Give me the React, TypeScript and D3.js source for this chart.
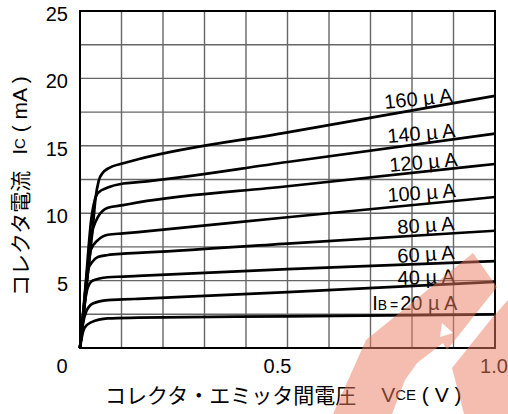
import React from "react";
import * as d3 from "d3";

// ---- data ----
const baseCurrents = [20, 40, 60, 80, 100, 120, 140, 160]; // µA
const vce160 = [0, 0.015, 0.031, 0.037, 0.045, 0.055, 0.067, 0.104, 0.14, 0.5, 1.0];
const ic160 = [0, 4.5, 9.0, 11.0, 12.4, 13.0, 13.3, 13.7, 14.0, 16.0, 18.7];
const vce140 = [0, 0.013, 0.027, 0.035, 0.043, 0.067, 0.104, 0.14, 0.5, 1.0];
const ic140 = [0, 4.5, 9.5, 10.9, 11.5, 11.9, 12.2, 12.3, 13.8, 15.9];
const vce120 = [0, 0.012, 0.0265, 0.043, 0.067, 0.104, 0.14, 0.5, 1.0];
const ic120 = [0, 4.0, 8.2, 9.7, 10.4, 10.6, 10.8, 12.0, 13.65];
const vce100 = [0, 0.013, 0.0265, 0.043, 0.067, 0.104, 0.14, 0.5, 1.0];
const ic100 = [0, 3.7, 7.3, 8.0, 8.4, 8.5, 8.6, 9.7, 11.2];
const vce80 = [0, 0.01, 0.019, 0.03, 0.043, 0.067, 0.104, 0.14, 0.5, 1.0];
const ic80 = [0, 3.2, 5.8, 6.4, 6.75, 6.9, 7.0, 7.05, 7.75, 8.7];
const vce60 = [0, 0.008, 0.019, 0.031, 0.067, 0.104, 0.14, 0.5, 1.0];
const ic60 = [0, 2.5, 4.5, 5.0, 5.25, 5.3, 5.35, 5.85, 6.45];
const vce40 = [0, 0.006, 0.015, 0.031, 0.067, 0.104, 0.14, 0.5, 1.0];
const ic40 = [0, 1.6, 2.7, 3.3, 3.55, 3.6, 3.65, 4.15, 4.9];
const vce20 = [0, 0.005, 0.011, 0.0265, 0.067, 0.14, 0.5, 1.0];
const ic20 = [0, 0.9, 1.5, 1.9, 2.2, 2.25, 2.35, 2.5];

const curveV = [vce20, vce40, vce60, vce80, vce100, vce120, vce140, vce160];
const curveI = [ic20, ic40, ic60, ic80, ic100, ic120, ic140, ic160];

// label anchors (data units) and tilt
const labelV = [0.704, 0.766, 0.766, 0.766, 0.742, 0.747, 0.742, 0.735];
const labelI = [2.82, 4.67, 6.31, 8.46, 10.83, 13.06, 15.21, 17.73];
const labelAngle = [0, -2, -3.8, -3.9, -4.1, -5, -4.9, -5.9];

const yTicks = [5, 10, 15, 20, 25];
const xTickLabels = ["0.5", "1.0"];
const xTickValues = [0.5, 1.0];

const W = 508;
const H = 414;
const plot = { left: 80, right: 495, top: 11, bottom: 348 };

const FONT = "'Liberation Sans', Arial, 'Noto Sans CJK JP', sans-serif";
const JFONT = "'Noto Sans CJK JP', 'Liberation Sans', sans-serif";

export default function App() {
  const x = d3.scaleLinear().domain([0, 1]).range([plot.left, plot.right]);
  const y = d3.scaleLinear().domain([0, 25]).range([plot.bottom, plot.top]);
  const line = d3
    .line<[number, number]>()
    .x((d) => x(d[0]))
    .y((d) => y(d[1]))
    .curve(d3.curveMonotoneX);

  const vGrid = d3.range(1, 10).map((i) => i / 10);
  const hGrid = d3.range(1, 10).map((i) => i * 2.5);

  return (
    <svg
      width={W}
      height={H}
      style={{ position: "absolute", left: 0, top: 0, background: "#fff" }}
    >
      <rect x={0} y={0} width={W} height={H} fill="#fff" />
      {/* grid */}
      {vGrid.map((v) => (
        <line key={"v" + v} x1={x(v)} x2={x(v)} y1={plot.top} y2={plot.bottom} stroke="#666" strokeWidth={1.4} />
      ))}
      {hGrid.map((v) => (
        <line key={"h" + v} x1={plot.left} x2={plot.right} y1={y(v)} y2={y(v)} stroke="#666" strokeWidth={1.4} />
      ))}
      {/* frame */}
      <rect
        x={plot.left}
        y={plot.top}
        width={plot.right - plot.left}
        height={plot.bottom - plot.top}
        fill="none"
        stroke="#000"
        strokeWidth={2}
      />
      {/* curves */}
      {curveV.map((vs, i) => {
        const pts = vs.map((v, j) => [v, curveI[i][j]] as [number, number]);
        return (
          <path key={"c" + i} d={line(pts) || ""} fill="none" stroke="#000" strokeWidth={2.7} strokeLinejoin="round" />
        );
      })}
      {/* curve labels */}
      {baseCurrents.map((b, i) => {
        const lx = x(labelV[i]);
        const ly = y(labelI[i]);
        return (
          <text
            key={"l" + b}
            x={lx}
            y={ly}
            fontSize={20}
            fontFamily={FONT}
            fill="#000"
            transform={`rotate(${labelAngle[i]} ${lx} ${ly})`}
          >
            {i === 0 ? (
              <>
                <tspan>I</tspan>
                <tspan fontSize={14}>B</tspan>
                <tspan fontSize={14} dx={3}>=</tspan>
                <tspan dx={2}>{b} µ A</tspan>
              </>
            ) : (
              `${b} µ A`
            )}
          </text>
        );
      })}
      {/* y tick labels */}
      {yTicks.map((t) => (
        <text key={"yt" + t} x={68} y={y(t) + 3} fontSize={20} fontFamily={FONT} textAnchor="end" dominantBaseline="central">
          {t}
        </text>
      ))}
      <text x={62} y={366} fontSize={20} fontFamily={FONT} textAnchor="middle" dominantBaseline="central">
        0
      </text>
      {/* x tick labels */}
      {xTickValues.map((v, i) => (
        <text
          key={"xt" + v}
          x={x(v) - (i === 0 ? 10 : 1)}
          y={366}
          fontSize={20}
          fontFamily={FONT}
          textAnchor="middle"
          dominantBaseline="central"
        >
          {xTickLabels[i]}
        </text>
      ))}
      {/* x title */}
      <text x={105} y={394} fontSize={21} fontFamily={JFONT} textAnchor="start" dominantBaseline="central">
        <tspan>コレクタ・エミッタ間電圧</tspan>
        <tspan fontFamily={FONT} dx={25}>V</tspan>
        <tspan fontFamily={FONT} fontSize={15}>CE</tspan>
        <tspan fontFamily={FONT}>{" ( V )"}</tspan>
      </text>
      {/* y title */}
      <text
        x={0}
        y={0}
        fontSize={21}
        fontFamily={JFONT}
        textAnchor="start"
        dominantBaseline="central"
        transform={`translate(19,296) rotate(-90)`}
      >
        <tspan>コレクタ電流</tspan>
        <tspan fontFamily={FONT} dx={16}>I</tspan>
        <tspan fontFamily={FONT} fontSize={15}>C</tspan>
        <tspan fontFamily={FONT}>{" ( mA )"}</tspan>
      </text>
      {/* watermark */}
      <g fill="#ec7d61" opacity={0.5}>
        <polygon points="473,253 497,287 447,350 443,343 417,363 405,380 392,414 333,414 366,340" />
        <polygon points="508,300 508,414 464,414 452,368 492,318" />
      </g>
      <g fill="#fff">
        <polygon points="442,323 453,333 440,337" />
      </g>
    </svg>
  );
}
